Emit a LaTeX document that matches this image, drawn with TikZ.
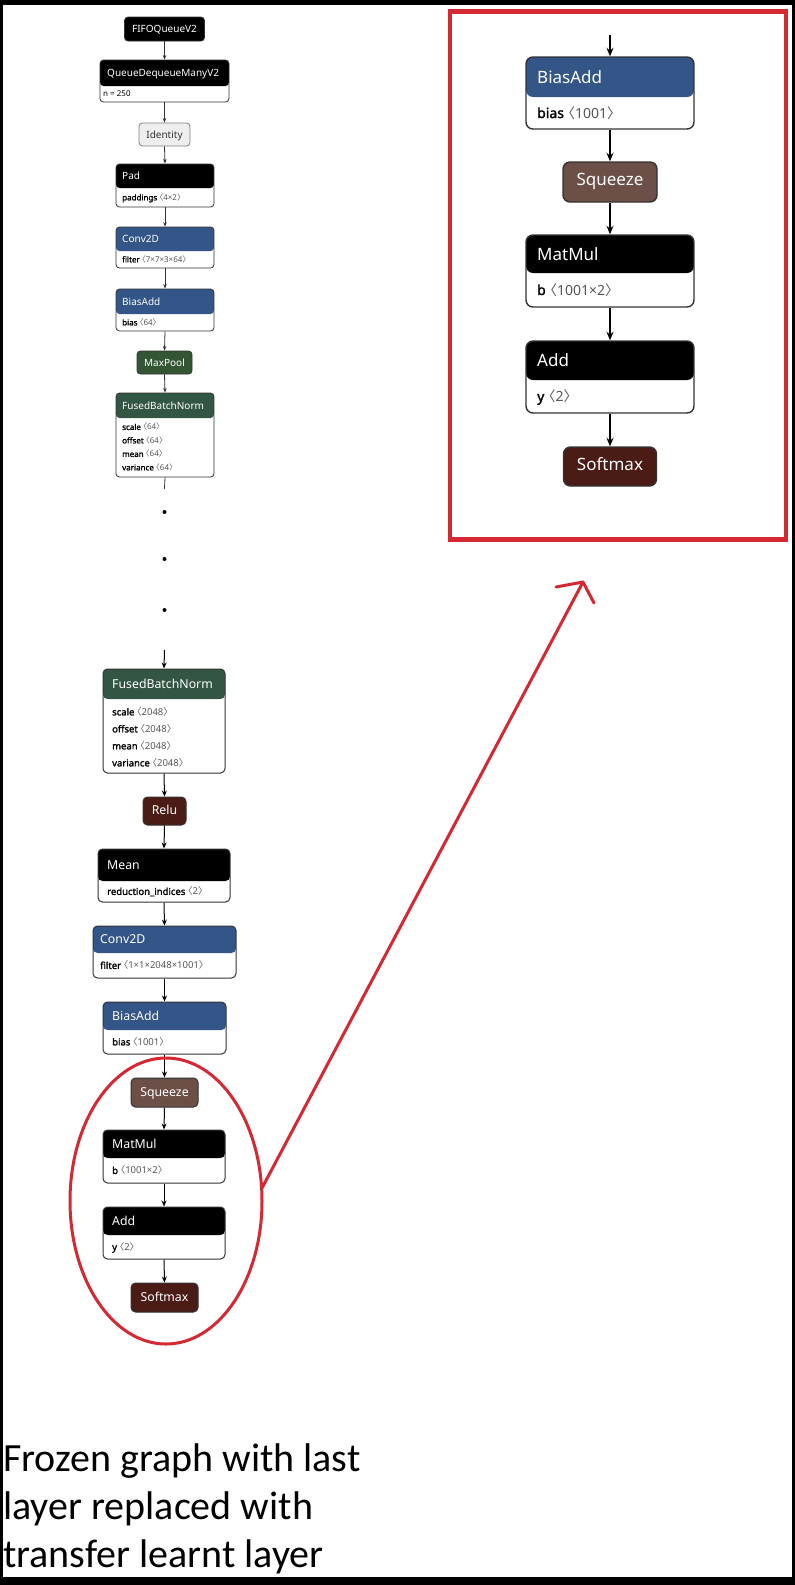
\documentclass[tikz,border=0pt]{standalone}
\usepackage{fontspec}
\setmainfont{Noto Sans}
\newfontfamily\bfam[FakeBold=1.6]{Noto Sans}
\newfontfamily\cjk[RawFeature=+halt]{Noto Sans CJK SC}
\newfontfamily\capfont{Carlito}
\usetikzlibrary{arrows.meta}
\definecolor{layer}{RGB}{51,85,136}
\definecolor{norm}{RGB}{51,85,68}
\definecolor{pool}{RGB}{51,85,51}
\definecolor{act}{RGB}{75,27,22}
\definecolor{shapec}{RGB}{108,79,71}
\definecolor{annot}{RGB}{212,40,50}
\definecolor{valgray}{RGB}{85,85,85}
\definecolor{edgegray}{RGB}{51,51,51}
\definecolor{identc}{RGB}{238,238,238}
\newcommand\shp[1]{{\color{valgray}{\cjk 〈}#1{\cjk 〉}}}
\newcommand\attr[1]{{\bfam #1}}
\newcommand\twobox[8]{%
  \begin{scope}[#8]
    \clip (#2,#3) rectangle (#4,#5);
    \fill[#7] (#2,#3) rectangle (#4,#6);
  \end{scope}
  \node[#8, draw=edgegray, inner sep=0pt, minimum width={#4-#2}, minimum height={#5-#3}] (#1) at ({(#2+#4)/2},{(#3+#5)/2}) {};
}
\tikzset{
  topbox/.style={rounded corners=3.5pt, line width=0.8pt},
  midbox/.style={rounded corners=4.5pt, line width=1pt},
  bigbox/.style={rounded corners=7pt, line width=1.4pt},
  ttl/.style={anchor=base west, inner sep=0pt, text=white},
  bod/.style={anchor=base west, inner sep=0pt, text=black},
  fT/.style={font=\fontsize{10}{12}\selectfont},
  fTb/.style={font=\fontsize{8}{10}\selectfont},
  fM/.style={font=\fontsize{12.3}{14}\selectfont},
  fMb/.style={font=\fontsize{9.5}{11}\selectfont},
  fR/.style={font=\fontsize{17}{20}\selectfont},
  fRb/.style={font=\fontsize{14}{17}\selectfont},
  single/.style={draw=edgegray, inner sep=0pt, text=white, text height=0.714em, text depth=0pt},
  eT/.style={draw=edgegray, line width=0.8pt, -{Stealth[length=4.5pt,width=3.5pt]}},
  eM/.style={draw=black, line width=1pt, -{Stealth[length=6pt,width=5pt]}},
  eR/.style={draw=black, line width=1.5pt, -{Stealth[length=8.5pt,width=7pt]}},
  redline/.style={draw=annot, line width=3pt, line cap=round, line join=round},
  capt/.style={anchor=base west, inner sep=0pt, font=\capfont\fontsize{40}{48}\selectfont},
}
\begin{document}
\begin{tikzpicture}[x=1pt,y=-1pt]
\useasboundingbox (0,0) rectangle (795,1585);
\fill[black] (0,0) rectangle (795,1585);
\fill[white] (3,5) rectangle (792,1577);

% ---------- left column, top part ----------
\node[single, topbox, fill=black, fT, minimum width=80, minimum height=24] (fifo) at (164.5,29) {FIFOQueueV2};
\twobox{qdm}{100}{60}{229}{102}{86}{black}{topbox}
\node[ttl, fT] at (107,76.6) {QueueDequeueManyV2};
\node[bod, fTb] at (103,96.8) {n = 250};
\node[single, topbox, draw=gray, fill=identc, text=black!80, fT, minimum width=51, minimum height=23] (ident) at (164.5,134.5) {Identity};
\twobox{pad}{116}{164}{214}{207}{188}{black}{topbox}
\node[ttl, fT] at (122,179.6) {Pad};
\node[bod, fTb] at (122,200.4) {\attr{paddings} \shp{4×2}};
\twobox{convA}{116}{227}{214}{268}{251}{layer}{topbox}
\node[ttl, fT] at (122,242.6) {Conv2D};
\node[bod, fTb] at (122,262.4) {\attr{filter} \shp{7×7×3×64}};
\twobox{biasA}{116}{289}{214}{331}{314}{layer}{topbox}
\node[ttl, fT] at (122,305.1) {BiasAdd};
\node[bod, fTb] at (122,325.4) {\attr{bias} \shp{64}};
\node[single, topbox, fill=pool, fT, minimum width=55, minimum height=23] (maxpool) at (164.5,362.5) {MaxPool};
\twobox{fbnA}{116}{393}{214}{477}{418}{norm}{topbox}
\node[ttl, fT] at (122,409.1) {FusedBatchNorm};
\node[bod, fTb] at (122,429.9) {\attr{scale} \shp{64}};
\node[bod, fTb] at (122,443.4) {\attr{offset} \shp{64}};
\node[bod, fTb] at (122,456.9) {\attr{mean} \shp{64}};
\node[bod, fTb] at (122,470.4) {\attr{variance} \shp{64}};

\draw[eT] (fifo.south) -- (qdm.north);
\draw[eT] (qdm.south) -- (ident.north);
\draw[eT] (ident.south) -- (pad.north);
\draw[eT] (pad.south) -- (convA.north);
\draw[eT] (convA.south) -- (biasA.north);
\draw[eT] (biasA.south) -- (maxpool.north);
\draw[eT] (maxpool.south) -- (fbnA.north);
\coordinate (contA) at (164.5,489);
\draw[edgegray, line width=0.8pt] (fbnA.south) -- (contA);

% dots
\fill[black] (164.5,512) circle[radius=2];
\fill[black] (164.5,559) circle[radius=2];
\fill[black] (164.5,610) circle[radius=2];

% ---------- left column, lower part ----------
\twobox{fbnB}{103}{669}{225}{773}{699}{norm}{midbox}
\node[ttl, fM] at (112,688.4) {FusedBatchNorm};
\node[bod, fMb] at (112,715.4) {\attr{scale} \shp{2048}};
\node[bod, fMb] at (112,732.4) {\attr{offset} \shp{2048}};
\node[bod, fMb] at (112,749.4) {\attr{mean} \shp{2048}};
\node[bod, fMb] at (112,766.4) {\attr{variance} \shp{2048}};
\node[single, midbox, fill=act, fM, minimum width=43, minimum height=28] (relu) at (164.5,811) {Relu};
\twobox{mean}{98}{849}{230}{902}{881}{black}{midbox}
\node[ttl, fM] at (107,869.4) {Mean};
\node[bod, fMb] at (107,894.9) {\attr{reduction\_indices} \shp{2}};
\twobox{convB}{93}{926}{236}{978}{953}{layer}{midbox}
\node[ttl, fM] at (100,943.9) {Conv2D};
\node[bod, fMb] at (100,968.9) {\attr{filter} \shp{1×1×2048×1001}};
\twobox{biasB}{103}{1002}{226}{1054}{1030}{layer}{midbox}
\node[ttl, fM] at (112,1020.4) {BiasAdd};
\node[bod, fMb] at (112,1045.4) {\attr{bias} \shp{1001}};
\node[single, midbox, fill=shapec, fM, minimum width=67, minimum height=29] (squeezeB) at (164.5,1092.5) {Squeeze};
\twobox{matmulB}{103}{1130}{225}{1183}{1158}{black}{midbox}
\node[ttl, fM] at (112,1148.4) {MatMul};
\node[bod, fMb] at (112,1173.9) {\attr{b} \shp{1001×2}};
\twobox{addB}{103}{1207}{225}{1259}{1235}{black}{midbox}
\node[ttl, fM] at (112,1225.4) {Add};
\node[bod, fMb] at (112,1250.4) {\attr{y} \shp{2}};
\node[single, midbox, fill=act, fM, minimum width=67, minimum height=29] (softmaxB) at (164.5,1297.5) {Softmax};

\coordinate (contB) at (164.5,650);
\draw[eM] (contB) -- (fbnB.north);
\draw[eM] (fbnB.south) -- (relu.north);
\draw[eM] (relu.south) -- (mean.north);
\draw[eM] (mean.south) -- (convB.north);
\draw[eM] (convB.south) -- (biasB.north);
\draw[eM] (biasB.south) -- (squeezeB.north);
\draw[eM] (squeezeB.south) -- (matmulB.north);
\draw[eM] (matmulB.south) -- (addB.north);
\draw[eM] (addB.south) -- (softmaxB.north);

% ---------- right panel ----------
\draw[annot, line width=4.5pt] (450,11.5) rectangle (786,539.5);
\twobox{biasR}{526}{57}{694}{129}{97}{layer}{bigbox}
\node[ttl, fR] at (537,83.1) {BiasAdd};
\node[bod, fRb] at (537,118) {\attr{bias}\hspace{0.3em}\shp{1001}};
\node[single, bigbox, fill=shapec, fR, minimum width=94, minimum height=40] (squeezeR) at (610,182) {Squeeze};
\twobox{matmulR}{526}{235}{694}{307}{273}{black}{bigbox}
\node[ttl, fR] at (537,260.1) {MatMul};
\node[bod, fRb] at (537,295) {\attr{b}\hspace{0.3em}\shp{1001×2}};
\twobox{addR}{526}{341}{694}{413}{380}{black}{bigbox}
\node[ttl, fR] at (537,366.6) {Add};
\node[bod, fRb] at (537,401.5) {\attr{y}\hspace{0.3em}\shp{2}};
\node[single, bigbox, fill=act, fR, minimum width=93, minimum height=39] (softmaxR) at (610,466.5) {Softmax};

\coordinate (inR) at (610,35);
\draw[eR] (inR) -- (biasR.north);
\draw[eR] (biasR.south) -- (squeezeR.north);
\draw[eR] (squeezeR.south) -- (matmulR.north);
\draw[eR] (matmulR.south) -- (addR.north);
\draw[eR] (addR.south) -- (softmaxR.north);

% ---------- annotations ----------
\draw[redline] (166,1201) ellipse[x radius=96, y radius=143];
\coordinate (arrS) at (262,1188);
\coordinate (arrT) at (583,582);
\coordinate (headL) at (556,587);
\coordinate (headR) at (594,603);
\draw[redline] (arrS) -- (arrT);
\draw[redline] (headL) -- (arrT) -- (headR);

% ---------- caption ----------
\node[capt] (cap1) at (3,1471) {Frozen graph with last};
\node[capt] (cap2) at (3,1519) {layer replaced with};
\node[capt] (cap3) at (3,1567) {transfer learnt layer};
\end{tikzpicture}
\end{document}
